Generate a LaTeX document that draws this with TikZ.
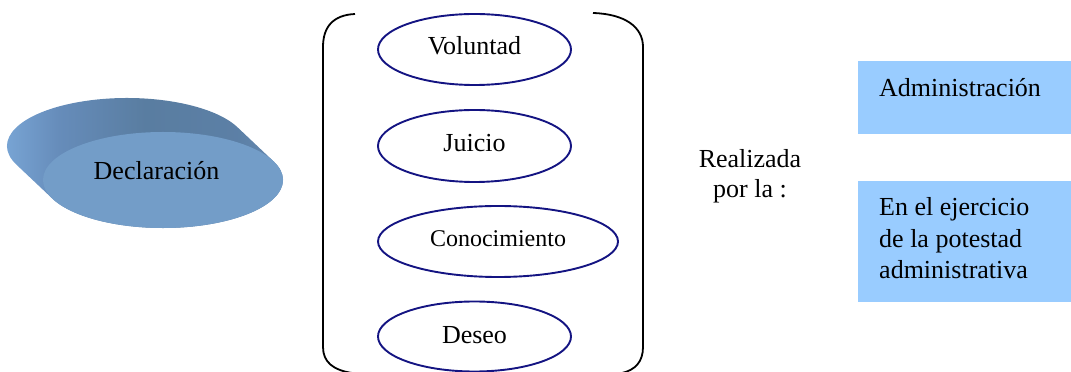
\documentclass[tikz,border=0pt]{standalone}
\usepackage{fontspec}
\setmainfont{Liberation Serif}
\usetikzlibrary{shapes.geometric,calc}
\definecolor{navyline}{RGB}{20,20,130}
\definecolor{boxblue}{RGB}{153,204,255}
\definecolor{frontblue}{RGB}{115,157,200}
\pgfdeclarehorizontalshading{sideshade}{100bp}{
  rgb(0bp)=(0.49,0.67,0.86);
  rgb(25bp)=(0.49,0.67,0.86);
  rgb(36bp)=(0.40,0.55,0.73);
  rgb(50bp)=(0.35,0.49,0.63);
  rgb(65bp)=(0.36,0.50,0.65);
  rgb(75bp)=(0.42,0.56,0.72);
  rgb(100bp)=(0.42,0.56,0.72)}
\tikzset{
  bigtext/.style={font=\fontsize{26}{30}\selectfont},
  oval/.style={ellipse, draw=navyline, line width=1.9pt, inner sep=0pt,
    minimum width=193pt, minimum height=71pt, text height=17pt, text depth=6pt,
    font=\fontsize{26}{30}\selectfont},
  bluebox/.style={rectangle, fill=boxblue, draw=none, anchor=north west, inner sep=0pt},
  bracketline/.style={line width=1.8pt, black},
}
\begin{document}
\begin{tikzpicture}[x=1pt,y=1pt]
\useasboundingbox (0,0) rectangle (1071,372);
\clip (0,0) rectangle (1071,372);
% Declaracion 3D disc
\coordinate (back) at (127,226);
\coordinate (front) at (163,192);
\shade[shading=sideshade]
  ($(back)+(22.95:120 and 48)$)
  arc[start angle=22.95, end angle=202.95, x radius=120, y radius=48]
  -- ($(front)+(202.95:120 and 48)$)
  arc[start angle=202.95, end angle=382.95, x radius=120, y radius=48]
  -- cycle;
\node[ellipse, fill=frontblue, inner sep=0pt, minimum width=240pt, minimum height=96pt] (decl) at (front) {};
\node[bigtext, anchor=base] (declt) at ([xshift=-6.5pt]decl.center) {Declaración};
% bracket
\draw[bracketline] (355,358) .. controls (333,357) and (323,345) .. (323,325)
  -- (323,25) .. controls (323,10) and (333,2) .. (352,-1);
\draw[bracketline] (593,359) .. controls (625,358) and (643,345) .. (643,325)
  -- (643,25) .. controls (643,10) and (635,2) .. (622,-1);
% ovals
\node[oval] (vol) at (474.5,322.5) {Voluntad};
\node[oval, minimum height=72pt] (jui) at (474.5,226) {Juicio};
\node[oval, minimum width=240pt, font=\fontsize{24}{28}\selectfont] (con) at (498,130.5) {Conocimiento};
\node[oval, minimum height=70pt, text height=19pt, text depth=4pt] (des) at (474.5,35.5) {Deseo};
% Realizada
\node[bigtext, align=center, anchor=base, inner sep=0pt] (real) at (750,174) {Realizada\\por la :};
% boxes
\node[bluebox, minimum width=213pt, minimum height=73pt] (adm) at (858,311) {};
\node[bigtext, anchor=base west, inner sep=0pt] (admt) at ([xshift=21pt,yshift=-36pt]adm.north west) {Administración};
\node[bluebox, minimum width=213pt, minimum height=121pt] (ejer) at (858,191) {};
\node[font=\fontsize{26}{31.5}\selectfont, align=left, anchor=base west, inner sep=0pt] (ejert) at ([xshift=21pt,yshift=-98pt]ejer.north west) {En el ejercicio\\de la potestad\\administrativa};
\end{tikzpicture}
\end{document}
